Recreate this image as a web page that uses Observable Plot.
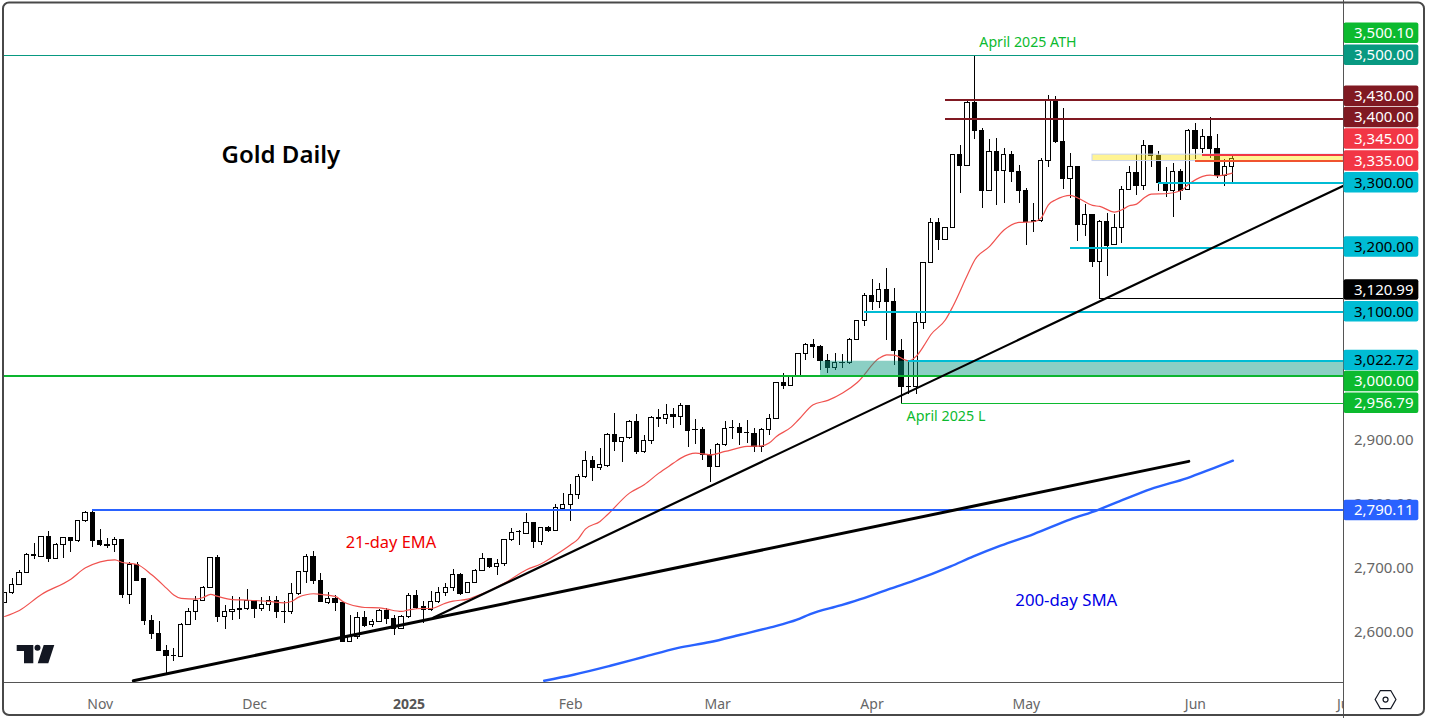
<!DOCTYPE html>
<html>
<head>
<meta charset="utf-8">
<style>html,body{margin:0;padding:0;background:#fff}svg{display:block}</style>
<script src="https://cdn.jsdelivr.net/npm/d3@7"></script>
<script src="https://cdn.jsdelivr.net/npm/@observablehq/plot@0.6"></script>
</head>
<body>
<script>
// Daily gold candles, in order, bar 0 = mid-October 2024 … bar 167 = 10 June 2025
const opens = [2646,2660.5,2673,2692,2720.3,2718,2748.4,2714,2736,2746.8,2741.6,2772.8,2785.8,2742,2735.4,2735.9,2743.7,2657.4,2704.7,2683.4,
2617.3,2597,2570.5,2563.2,2561.2,2611.1,2631.4,2648.5,2668.3,2715.6,2623,2631.4,2636,2635.5,2648.5,2637,2642.3,2648.5,2631.4,2631.4,
2659.4,2693.8,2717.2,2679.7,2645.4,2651.6,2645.4,2584,2591.8,2622,2610.6,2615.8,2633.4,2620.4,2604.8,2623,2656.3,2639.2,2634,2646.4,
2660.5,2668.3,2689,2661,2676.6,2695.3,2714,2701.6,2706.2,2743.2,2755.6,2753,2770.2,2740,2762.4,2757.2,2792.6,2797.8,2813.9,2842,
2866.9,2855.5,2858.6,2907.5,2896,2902.3,2927.8,2880.4,2897.6,2934,2932,2938.7,2935.6,2952.7,2915.3,2915.3,2876.8,2857,2891.4,2918,
2918.4,2910.5,2909,2888.8,2915.3,2932.4,2988.6,2983.4,2999.9,3033.8,3047.9,3044.8,3022.4,3012,3019.8,3019.3,3055.7,3085.3,3124.3,3115,
3133.7,3115,3038.5,2982.4,2982.4,3082.2,3175.8,3238.2,3211.2,3230.4,3344.3,3326.6,3425.4,3382.2,3287.6,3349,3318.8,3344.3,3317.8,3288.1,
3241.3,3240.8,3334.9,3430.6,3364.6,3306.3,3325.6,3234.6,3250.7,3176.8,3239.8,3203.4,3230.4,3289.7,3316.2,3295.4,3358.3,3343.2,3300.6,3287.6,
3317.8,3289.7,3381.7,3353.1,3372.4,3353.1,3311.5,3325.6];
const highs = [2662,2684.4,2695.8,2722.4,2739,2749,2757.7,2739,2747.8,2747.5,2773.8,2789,2790.11,2760.8,2746.8,2748.4,2745.2,2708.8,2709.4,2684.4,
2625.6,2617.3,2579.9,2574.7,2614.2,2637.6,2655.8,2671.4,2716,2720.3,2641.2,2655.8,2654.8,2666.2,2649.6,2654.8,2655.8,2655.8,2648,2675.6,
2694,2720.8,2725.5,2692.2,2662.6,2656.8,2645.5,2625.6,2630.8,2631.9,2620.4,2636,2636.6,2625.6,2625.6,2661,2664.6,2648.5,2663.6,2669.8,
2676.6,2697.4,2692.2,2677,2697.4,2723.4,2715.6,2714,2744.2,2762.4,2758.8,2785.8,2771.8,2764,2765,2798.8,2817,2830,2845.6,2881.5,
2873.7,2886.2,2910.6,2941.8,2902.8,2929.8,2939.2,2906.4,2936,2947,2954.8,2949.6,2956.4,2953,2932.4,2920,2884.6,2895,2928.8,2929.8,
2926.2,2929.8,2918.4,2918.4,2940.2,2989,3004.2,3000.5,3035.4,3051,3057.2,3047.9,3032.8,3035.4,3032.8,3058.8,3086.9,3128,3149.8,3143.6,
3168,3136.8,3056.2,3022.4,3097.8,3176,3246,3246,3231.4,3344.6,3358.8,3429.6,3500.1,3386.4,3368.2,3370.8,3354.2,3349.5,3328.7,3291.8,
3269.4,3338.6,3436.8,3435.8,3416.6,3347.4,3326,3266.8,3251,3241.8,3252.8,3251.2,3295.9,3326.1,3345.8,3366.6,3358.6,3350.5,3325.6,3331.8,
3322.4,3383.8,3393.2,3384.8,3403.6,3376,3338,3343.2];
const lows = [2645,2658.4,2672.4,2691,2714,2717,2708.8,2713,2715.6,2724.4,2740,2771.8,2732.2,2733.8,2730.7,2724.4,2652.7,2642.8,2678.7,2610,
2588.2,2569.7,2536.2,2553.9,2560.7,2610.6,2617.8,2648,2668,2615.2,2603.8,2618.4,2619.4,2634,2621.5,2632.4,2632.4,2622,2613.7,2628.2,
2657.9,2675.6,2675,2646,2642.8,2632.9,2584,2583.7,2588.2,2608,2608,2615,2611.6,2595,2603.8,2622,2636,2613.2,2632.9,2645.4,
2655.8,2663.6,2657.9,2660.5,2675.6,2694.3,2699.5,2688,2702.6,2741.6,2735.4,2752.8,2731.2,2735,2756.2,2756.7,2789.4,2772.3,2806.6,2840.4,
2835.2,2852.4,2857,2881.5,2864.8,2901.3,2877.8,2878.9,2892.4,2918.9,2924.1,2917.9,2922,2888.2,2892.4,2868,2833.6,2856.7,2889.8,2900.2,
2891.4,2895,2880.4,2880.4,2907,2932,2978.2,2983,2999.6,3024,3026.6,3007.8,3003.2,3008.4,3012,3018.2,3055.2,3077,3101.4,3105.1,
3054.6,3015.6,2956.79,2970.4,2970.4,3071.8,3175.5,3195.6,3211,3230,3284,3326,3368.2,3261.1,3287,3265.2,3268.4,3301.6,3268.4,3202.8,
3223.6,3239.2,3324.5,3362,3290.2,3276.7,3209,3217.4,3169,3120.99,3155,3202.8,3206,3288.6,3280.8,3288.6,3324.5,3287.1,3278.2,3247,
3273,3289.2,3337,3347.4,3339.6,3308.4,3295.4,3301.6];
const closes = [2661,2673,2692.2,2720.3,2718.2,2748.4,2714,2735.9,2746.8,2741.6,2772.8,2785.8,2741.6,2735.4,2734.8,2743.7,2657.4,2704.7,2679.2,2616.8,
2596.5,2570,2562.2,2562.7,2611.1,2631.4,2648.5,2668.3,2715.6,2623,2631.4,2634.5,2634.5,2648.5,2637,2642.3,2648.5,2630.8,2630.8,2659.4,
2693.8,2717.2,2679.2,2646.4,2651.6,2644.9,2584,2591.8,2622,2610,2615.2,2633.4,2619.9,2604.8,2623.6,2656.8,2638.1,2635,2647,2661,
2668.8,2689,2660,2676.6,2695.8,2714,2701,2706.2,2743.7,2754.6,2756.2,2770.2,2740.6,2762.9,2757.7,2793.6,2798.3,2813.9,2842.5,2866.9,
2855.5,2860.7,2907.5,2896,2902.3,2927.8,2880.4,2898.1,2934,2932,2938.2,2935.6,2952.7,2913.2,2914.8,2876.8,2857,2891.9,2916.8,2918.4,
2910,2910,2888.8,2915.3,2932.4,2988.6,2983.4,2999.9,3033.8,3047.9,3044.8,3022.4,3011.5,3019.8,3020.3,3055.7,3085.3,3124.3,3115,3133.7,
3115,3038,2981.8,2981.8,3082.2,3175.8,3238.2,3211.2,3230.4,3344.3,3326.6,3425.4,3381.2,3287.6,3349,3318.8,3344.3,3317.2,3287.6,3239.2,
3239.2,3334.9,3430.6,3364,3306.3,3325.6,3234.6,3250.7,3176.8,3239.8,3202.8,3230.4,3289.7,3316.2,3295.4,3358.3,3342.2,3300.6,3287.6,3317.8,
3288.1,3381.7,3353.1,3372.4,3353.1,3312,3325.6,3338];

// 21-day EMA, read at these bars
const emaBars = [0,2,5,9,11,15,16,18,20,22,23,24,26,27,28,29,31,33,36,38,39,40,41,42,43,45,46,48,49,51,52,54,55,57,58,60,61,63,64,66,68,71,73,75,77,78,79,81,82,85,87,89,91,92,94,96,98,101,103,104,105,107,108,110,112,114,116,119,120,121,123,124,125,126,128,129,131,132,134,136,138,140,141,142,143,145,146,148,149,151,152,153,154,155,156,158,160,161,163,164,165,167];
const emaVals = [2624.6,2634,2658.9,2682.8,2700.5,2713,2708.8,2705.7,2689.6,2668.8,2657.9,2652.7,2651.6,2654.2,2658.9,2655.8,2651,2650,2648,2645.9,2648,2654.8,2658.4,2660,2658.9,2655.8,2648,2640.2,2638.6,2638.1,2636,2632.4,2635,2637,2637,2645.4,2648.5,2651.6,2655.8,2665.2,2676.6,2697.4,2706.8,2720.8,2736.4,2745.2,2760.8,2772.8,2783.2,2817,2830,2848.2,2863.8,2871.6,2879.4,2876.8,2882,2889.8,2890.8,2895,2905.4,2919.9,2931.4,2955,2961.6,2973,2989.6,3027.6,3032.8,3032.3,3023.4,3030.2,3045.8,3064,3087.4,3108.2,3157.6,3181,3201.8,3227.8,3239.2,3240.3,3246,3266.8,3274.6,3281.6,3277.4,3265.8,3264.2,3255.4,3259,3265.2,3267.8,3277.2,3283.4,3284,3288.6,3298,3311,3313,3312,3316.2];

// 200-day SMA, read at these bars
const smaBars = [73.4,77.4,82.4,86.9,91.5,96,100.1,104.2,107.8,109.6,113.7,116.9,120.5,123.7,128.7,131.8,135.5,140,145,148.7,152.2,155.9,160.9,164.5,167.1];
const smaVals = [2524.3,2533.7,2547.7,2561.3,2575.3,2584.7,2596.1,2607.5,2619.5,2628.3,2641.9,2653.3,2667.9,2680.3,2702.7,2718.3,2735,2753.1,2776,2790.6,2806.7,2823.3,2840.5,2856.1,2867.5];

// Horizontal levels: price, first bar, colour, line width
const levelPrices = [3500,3430,3400,3345,3335,3300,3200,3120.99,3100,3022.72,3000,2956.79,2790.11];
const levelBars   = [-0.03,128,128,163,162,157,145,149,117,123,-0.03,122,12];
const levelColors = ["#089981","#801922","#801922","#f23645","#f0532f","#00bcd4","#00bcd4","#000000","#00bcd4","#00bcd4","#0cb52f","#0cba2f","#2962ff"];
const levelWidths = [1,2,2,2,2,2,2,1,2,2,2,1,2];

// Price-scale tags: value, the price where the tag is stacked, fill, text colour
const tagValues = [3500.10,3500,3430,3400,3345,3335,3300,3200,3120.99,3100,3022.72,3000,2956.79,2790.11];
const tagCenter = [3534.5,3500,3436,3403,3369.5,3335,3301,3201,3134,3100,3024,2991,2957,2790];
const tagFills  = ["#0cba2f","#089981","#801922","#801922","#f23645","#f23645","#00bcd4","#00bcd4","#000000","#00bcd4","#00bcd4","#0cba2f","#0cba2f","#2962ff"];
const tagInks   = ["#fff","#fff","#fff","#fff","#fff","#fff","#000","#000","#fff","#000","#000","#fff","#fff","#fff"];

// Axis ticks
const priceTicks = [2600,2700,2800,2900,3000,3100,3200,3300,3400,3500];
const monthBars  = [13,34,77,97,118,139,162,182.35];
const monthNames = ["Nov","Dec","Feb","Mar","Apr","May","Jun","Jul"];
const yearBars   = [55];
const yearNames  = ["2025"];

// Trend lines: [bar, price] end points
const trendThin  = {bars:[58.3,182.15], prices:[2622.7,3296.6]};
const trendThick = {bars:[17.5,161.1], prices:[2524.4,2866.5]};

// Annotations
const noteTexts  = ["Gold Daily","April 2025 ATH","21-day EMA","200-day SMA","April 2025 L"];
const noteBars   = [29.5,132.6,46.4,137.5,122.7];
const notePrices = [3344,3520,2739,2649,2937];
const noteColors = ["#000000","#0cba2f","#f00000","#0000e6","#0cba2f"];
const noteSizes  = [24,14.2,16.4,16.8,14.3];
const noteWeights= ["600","400","400","400","400"];

// Zones
const zoneTeal   = {bar:111, lo:3000, hi:3022.72};
const zoneYellow = {bar:148, lo:3335, hi:3345};

const AXIS_END = 182.15, TAG_END = 192.4, TEXT_END = 191.67, FLOOR = 2522;

const candles = opens.map((o,i)=>({i,o,h:highs[i],l:lows[i],c:closes[i]}));
const up = candles.filter(d=>d.c>=d.o && ![14,23,38,70,94,99,101,114,123].includes(d.i));
const down = candles.filter(d=>!up.includes(d));
const ema = emaBars.map((b,k)=>({b,v:emaVals[k]}));
const sma = smaBars.map((b,k)=>({b,v:smaVals[k]}));
const levels = levelPrices.map((p,k)=>({p,b:levelBars[k],color:levelColors[k],w:levelWidths[k]}));
const tags = tagValues.map((v,k)=>({v,c:tagCenter[k],fill:tagFills[k],ink:tagInks[k]}));
const notes = noteTexts.map((t,k)=>({t,b:noteBars[k],p:notePrices[k],color:noteColors[k],size:noteSizes[k],weight:noteWeights[k]}));
const fmt = d3.format(",.2f");
const font = '"Noto Sans", sans-serif';
const TAG_HALF = 16;

const levelMark = l => Plot.ruleY([l.p],{x1:l.b,x2:AXIS_END,stroke:l.color,strokeWidth:l.w,shapeRendering:"crispEdges"});

const chart = Plot.plot({
  width:1429,height:719,
  marginTop:0,marginRight:0,marginBottom:0,marginLeft:0,
  x:{domain:[-0.5714,193.85],range:[0,1429],axis:null},
  y:{domain:[2463.85,3585.45],range:[719,0],axis:null},
  style:{fontFamily:font,background:"#fff",color:"#000"},
  marks:[
    // candle wicks and bodies
    Plot.ruleX(candles,{x:"i",y1:"l",y2:"h",stroke:"#000",strokeWidth:1,shapeRendering:"crispEdges"}),
    Plot.rect(up,{x1:d=>d.i-0.29,x2:d=>d.i+0.29,y1:"o",y2:"c",fill:"#fff",stroke:"#000",strokeWidth:1,shapeRendering:"crispEdges"}),
    Plot.rect(down,{x1:d=>d.i-0.29,x2:d=>d.i+0.29,y1:"o",y2:"c",fill:"#000",stroke:"#000",strokeWidth:1,shapeRendering:"crispEdges"}),
    // indicators
    Plot.line(ema,{x:"b",y:"v",stroke:"#f0524f",strokeWidth:1.2,curve:"monotone-x"}),
    Plot.line(sma,{x:"b",y:"v",stroke:"#2962ff",strokeWidth:2.4,curve:"monotone-x"}),
    // zones
    Plot.rect([zoneTeal],{x1:"bar",x2:()=>AXIS_END,y1:"lo",y2:"hi",fill:"#089981",fillOpacity:0.47}),
    Plot.rect([zoneYellow],{x1:"bar",x2:()=>AXIS_END,y1:"lo",y2:"hi",fill:"#ffe500",fillOpacity:0.42,stroke:"#c9d3ee",strokeWidth:1}),
    // levels and trend lines
    ...levels.map(levelMark),
    Plot.line(trendThin.bars.map((b,k)=>({b,p:trendThin.prices[k]})),{x:"b",y:"p",stroke:"#000",strokeWidth:2.2}),
    Plot.line(trendThick.bars.map((b,k)=>({b,p:trendThick.prices[k]})),{x:"b",y:"p",stroke:"#000",strokeWidth:3}),
    // annotations
    ...notes.map(n=>Plot.text([n],{x:"b",y:"p",text:"t",fill:n.color,fontSize:n.size,fontWeight:n.weight,textAnchor:"start"})),
    // chrome lines
    Plot.ruleY([FLOOR],{x1:-0.03,x2:AXIS_END,stroke:"#555",strokeWidth:1,shapeRendering:"crispEdges"}),
    // axes
    Plot.axisX(monthBars,{anchor:"bottom",y:2495,tickSize:0,label:null,tickFormat:d=>monthNames[monthBars.indexOf(d)],fontSize:14,color:"#666",tickPadding:0}),
    Plot.axisX(yearBars,{anchor:"bottom",y:2495,tickSize:0,label:null,tickFormat:d=>yearNames[yearBars.indexOf(d)],fontSize:14,fontWeight:"700",color:"#555",tickPadding:0}),
    Plot.rect([0],{x1:()=>AXIS_END,x2:()=>193,y1:()=>2465,y2:()=>3585,fill:"#fff"}),
    Plot.ruleX([AXIS_END],{y1:2465,y2:3585,stroke:"#555",strokeWidth:1,shapeRendering:"crispEdges"}),
    Plot.axisY(priceTicks,{anchor:"right",x:TEXT_END,tickSize:0,label:null,tickFormat:d=>fmt(d),fontSize:15,color:"#666",tickPadding:0,textAnchor:"end"}),
    // price-scale tags
    Plot.rect(tags,{x1:()=>AXIS_END+0.08,x2:()=>TAG_END,y1:d=>d.c-TAG_HALF,y2:d=>d.c+TAG_HALF,fill:"fill",rx:2}),
    Plot.text(tags,{x:()=>TEXT_END,y:"c",text:d=>fmt(d.v),fill:"ink",fontSize:15,textAnchor:"end"}),
    // settings icon
    Plot.dot([0],{x:()=>187.87,y:()=>2495,symbol:"hexagon",r:9,rotate:90,stroke:"#131722",strokeWidth:1.2,fill:"none"}),
    Plot.dot([0],{x:()=>187.87,y:()=>2495,r:2.5,stroke:"#131722",strokeWidth:1.2,fill:"none"}),
    // window outline
    Plot.frame({stroke:"#484848",strokeWidth:2,rx:6,insetLeft:2.5,insetTop:2,insetRight:5.5,insetBottom:4.5})
  ]
});

// TradingView logo
d3.select(chart).append("path")
  .attr("d","M16.7 645H33.3V663.3H24V651H16.7ZM43.7 645H54.3L48.3 663.3H37.7ZM40.5 647.7a3 3 0 1 1-6 0a3 3 0 1 1 6 0Z")
  .attr("fill","#131722");

document.body.appendChild(chart);
</script>
</body>
</html>
